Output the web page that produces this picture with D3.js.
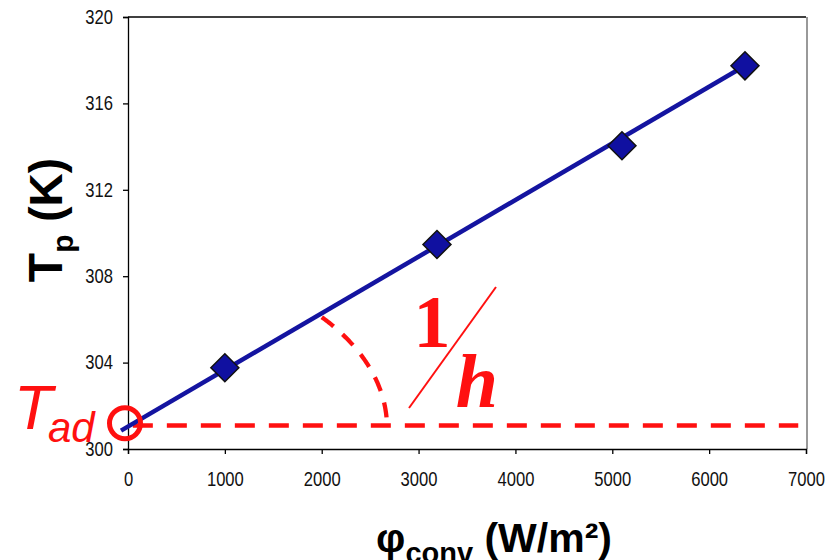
<!DOCTYPE html>
<html>
<head>
<meta charset="utf-8">
<script src="https://cdn.jsdelivr.net/npm/d3@7"></script>
<style>
  body { margin: 0; background: #fff; }
  svg { display: block; font-family: "Liberation Sans", Arial, sans-serif; }
  .axis text { font-size: 16.6px; fill: #111; }
  .axis path, .axis line { stroke: #000; stroke-width: 1.3; }
</style>
</head>
<body>
<div id="chart"></div>
<script>
// measured points
var fluxVals = [1000, 3190, 5100, 6370];
var tempVals = [303.76, 309.47, 314.04, 317.74];

// trend line ends
var trendX = [-72, 6370];
var trendY = [300.85, 317.74];

// T_ad reference line + marker
var tadValue = 301.09;
var tadLineX = [50, 6920];
var tadMarkX = -31, tadMarkY = 301.19;

// angle arc (ellipse in data units)
var arcCenter = [-72, 301.0];
var arcRadius = [2746, 7.78];

var xTicks = [0, 1000, 2000, 3000, 4000, 5000, 6000, 7000];
var yTicks = [300, 304, 308, 312, 316, 320];

var W = 827, H = 560;
var margin = { top: 17, right: 21, bottom: 111, left: 128 };
var width = W - margin.left - margin.right,
    height = H - margin.top - margin.bottom;
var stretch = 1.17; // tick labels look taller than wide

var svg = d3.select('#chart').append('svg')
    .attr('width', W)
    .attr('height', H);

var g = svg.append('g')
    .attr('transform', 'translate(' + margin.left + ',' + margin.top + ')');

var x = d3.scaleLinear().domain([0, 7000]).range([0, width]);
var y = d3.scaleLinear().domain([300, 320]).range([height, 0]);

// frame: top black, right grey
g.append('line').attr('x1', 0).attr('x2', width).attr('y1', 0).attr('y2', 0)
    .attr('stroke', '#000').attr('stroke-width', 1.3);
g.append('line').attr('x1', width + 1).attr('x2', width + 1).attr('y1', 0).attr('y2', height)
    .attr('stroke', '#999').attr('stroke-width', 2);

var xa = g.append('g').attr('class', 'axis')
    .attr('transform', 'translate(0,' + height + ')')
    .call(d3.axisBottom(x).tickValues(xTicks).tickFormat(d3.format('d')).tickSizeOuter(0).tickSize(5));
xa.selectAll('text')
    .attr('y', 19.8)
    .attr('transform', 'scale(1,' + stretch + ')');

var ya = g.append('g').attr('class', 'axis')
    .call(d3.axisLeft(y).tickValues(yTicks).tickFormat(d3.format('d')).tickSizeOuter(0).tickSize(5).tickPadding(10));
ya.selectAll('text')
    .attr('transform', 'scale(1,' + stretch + ')');

var red = '#ff1010';

// horizontal dashed T_ad line
g.append('line')
    .attr('x1', x(tadLineX[0])).attr('x2', x(tadLineX[1]))
    .attr('y1', y(tadValue)).attr('y2', y(tadValue))
    .attr('stroke', red).attr('stroke-width', 4.5)
    .attr('stroke-dasharray', '20,14');

// dashed angle arc
var angles = d3.range(0, 41.5, 0.5);
var arcPts = angles.map(function(a) {
    var t = a * Math.PI / 180;
    return [arcCenter[0] + arcRadius[0] * Math.cos(t), arcCenter[1] + arcRadius[1] * Math.sin(t)];
});
arcPts.reverse();
g.append('path')
    .datum(arcPts)
    .attr('d', d3.line().x(function(d){ return x(d[0]); }).y(function(d){ return y(d[1]); }))
    .attr('fill', 'none')
    .attr('stroke', red).attr('stroke-width', 4.3)
    .attr('stroke-dasharray', '15,12');

// trend line
g.append('line')
    .attr('x1', x(trendX[0])).attr('y1', y(trendY[0]))
    .attr('x2', x(trendX[1])).attr('y2', y(trendY[1]))
    .attr('stroke', '#1414a0').attr('stroke-width', 4.5);

// markers
g.selectAll('path.pt')
    .data(fluxVals)
    .enter()
    .append('path')
      .attr('class', 'pt')
      .attr('d', 'M0,-14L14,0L0,14L-14,0Z')
      .attr('transform', function(d, i){ return 'translate(' + x(d) + ',' + y(tempVals[i]) + ')'; })
      .attr('fill', '#1010a0')
      .attr('stroke', '#111')
      .attr('stroke-width', 1.5);

// T_ad circle
g.append('circle')
    .attr('cx', x(tadMarkX)).attr('cy', y(tadMarkY))
    .attr('r', 15.5)
    .attr('fill', 'none')
    .attr('stroke', red).attr('stroke-width', 5);

// T_ad label
svg.append('text')
    .attr('x', 14).attr('y', 429)
    .attr('fill', red)
    .style('font-style', 'italic')
    .style('font-size', '63px')
    .text('T');
svg.append('text')
    .attr('x', 48).attr('y', 442)
    .attr('fill', red)
    .style('font-style', 'italic')
    .style('font-size', '42px')
    .text('ad');

// 1/h
svg.append('text')
    .attr('x', 432).attr('y', 347)
    .attr('text-anchor', 'middle')
    .attr('fill', red)
    .style('font-family', '"Liberation Serif", "Times New Roman", serif')
    .style('font-weight', 'bold')
    .style('font-size', '74px')
    .text('1');
svg.append('line')
    .attr('x1', 496).attr('y1', 287).attr('x2', 409).attr('y2', 408)
    .attr('stroke', red).attr('stroke-width', 2);
svg.append('text')
    .attr('x', 477).attr('y', 407)
    .attr('text-anchor', 'middle')
    .attr('fill', red)
    .style('font-family', '"Liberation Serif", "Times New Roman", serif')
    .style('font-weight', 'bold')
    .style('font-style', 'italic')
    .style('font-size', '76px')
    .text('h');

// axis titles
var yl = svg.append('text')
    .attr('transform', 'translate(62,220) rotate(-90)')
    .attr('text-anchor', 'middle')
    .style('font-weight', 'bold')
    .style('font-size', '46px')
    .attr('fill', '#000');
yl.append('tspan').style('font-size', '48px').text('T');
yl.append('tspan').attr('dy', 11).style('font-size', '30px').text('p');
yl.append('tspan').attr('dy', -11).text(' (K)');

var xl = svg.append('text')
    .attr('x', 494).attr('y', 552)
    .attr('text-anchor', 'middle')
    .style('font-weight', 'bold')
    .style('font-size', '41px')
    .attr('fill', '#000');
xl.append('tspan').text('φ');
xl.append('tspan').attr('dy', 11).style('font-size', '29px').text('conv');
xl.append('tspan').attr('dy', -11).text(' (W/m²)');
</script>
</body>
</html>
